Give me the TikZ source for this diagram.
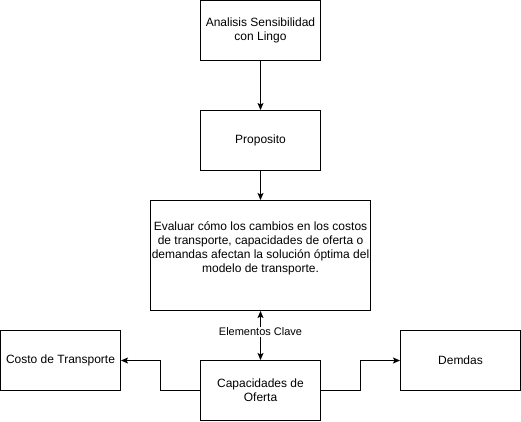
\documentclass[tikz,border=0pt]{standalone}
\usepackage{fontspec}
\setmainfont{Liberation Sans}
\usetikzlibrary{arrows.meta}
\begin{document}
\begin{tikzpicture}[x=1pt,y=-1pt,
  box/.style={draw=black,line width=1pt,fill=white,align=center,font=\fontsize{12}{14}\selectfont,inner sep=0pt},
  txt/.style={align=center,font=\fontsize{12}{14}\selectfont,inner sep=0pt},
  conn/.style={draw=black,line width=1pt,-{Stealth[length=7pt,width=6pt,inset=1.5pt]}},
  lbl/.style={font=\fontsize{11}{13}\selectfont,fill=white,inner sep=1pt}]
\useasboundingbox (0,0) rectangle (521,421);
\node[box,minimum width=120pt,minimum height=60pt] (a) at (260.5,30.5) {Analisis Sensibilidad\\con Lingo};
\node[box,minimum width=120pt,minimum height=60pt] (p) at (260.5,140.5) {Proposito};
\node[box,minimum width=220pt,minimum height=110pt] (e) at (260.5,255.5) {};
\node[txt] (et) at ([yshift=7pt]e.center) {Evaluar cómo los cambios en los costos\\de transporte, capacidades de oferta o\\demandas afectan la solución óptima del\\modelo de transporte.};
\node[box,minimum width=120pt,minimum height=60pt] (c) at (260.5,390.5) {Capacidades de\\Oferta};
\node[box,minimum width=120pt,minimum height=60pt] (t) at (60.5,360.5) {Costo de Transporte};
\node[box,minimum width=120pt,minimum height=60pt] (d) at (460.5,360.5) {Demdas};
\draw[conn] (a) -- (p);
\draw[conn] (p) -- (e);
\draw[conn,{Stealth[length=7pt,width=6pt,inset=1.5pt]}-{Stealth[length=7pt,width=6pt,inset=1.5pt]}] (e) -- node[lbl,pos=0.42] (k) {Elementos Clave} (c);
\draw[conn] (c.west) -- (160.5,390.5) -- (160.5,360.5) -- (t.east);
\draw[conn] (c.east) -- (360.5,390.5) -- (360.5,360.5) -- (d.west);
\end{tikzpicture}
\end{document}
